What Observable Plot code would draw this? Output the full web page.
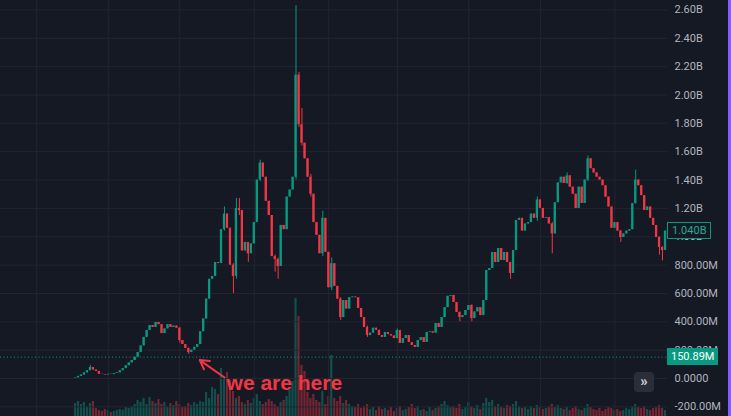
<!DOCTYPE html>
<html><head><meta charset="utf-8">
<script src="https://cdn.jsdelivr.net/npm/d3@7"></script>
<script src="https://cdn.jsdelivr.net/npm/@observablehq/plot@0.6"></script>
<style>
html,body{margin:0;padding:0;background:#151924;}
#wrap{position:relative;width:731px;height:416px;overflow:hidden;background:#151924;font-family:Roboto,"Noto Sans",sans-serif;}
#wrap svg{position:absolute;left:0;top:0;}
.tag{position:absolute;box-sizing:border-box;font-size:11px;line-height:15px;padding:0 4px;white-space:nowrap;}
</style></head><body><div id="wrap"></div>
<script>
// price closes in millions (one per candle)
const closes = [5,15,25,40,55,78,60,50,30,28,25,30,28,35,40,55,70,90,110,127,150,183,230,290,339,374,360,395,380,317,
350,380,360,370,355,268,240,212,183,200,220,240,330,420,560,700,720,818,811,1050,1160,1060,800,720,1200,1185,900,960,880,950,
1100,1400,1520,1420,1250,1150,860,840,790,1080,1050,1280,1330,1420,2140,1790,1660,1550,1420,1300,1100,1010,880,1130,890,640,810,650,560,430,
550,490,570,575,570,494,430,360,303,320,355,340,303,290,325,310,300,282,339,247,282,303,254,233,219,268,289,254,325,330,
320,388,360,430,500,580,586,536,466,430,444,480,515,423,470,500,444,550,762,776,889,818,917,832,889,818,741,903,1115,1130,
1040,1090,1100,1160,1130,1260,1200,1130,1135,1090,1020,1240,1380,1420,1376,1430,1350,1300,1200,1350,1235,1400,1550,1480,1450,1420,1400,1360,1280,1210,
1060,1100,1040,995,1020,1040,1050,1235,1400,1360,1290,1185,1210,1130,1080,995,924,903,1040];
const firstOpen = 2;
// volume per candle (arbitrary units)
const volumes = [13,15,12,14,10,13,15, 8,6,5,7,6,4,5,6, 7,6,9,8,10,12, 16,14,18,12,19,15,13,17,
12,14,10,13,11,15,12,9,10,13,11,14, 12,15,14,24,18,29,27,22,48,
40,44,36,25,18,20,14,12,16,13,18,22,15,12,14,17,15,12,10,14,16,20,26,35,118,
100,51,45,24,18,22,16,14,25,12,20,61,18,15,20,13,16,12,10,9,12,8,10,12,7,
9,6,10,7,8,6,9,5,8,10,6,7,9,12,8,10,6,7,5,9,6,8,10,12,15,
11,9,10,8,12,7,9,14,10,8,11,7,13,18,14,16,10,12,9,8,11,10,12,15,10,
8,9,7,10,8,11,9,7,8,10,12,9,11,8,7,9,6,8,10,7,6,8,12,9,7,
6,8,5,7,9,8,6,7,5,6,8,7,10,12,9,8,10,7,6,8,9,11,8,6];
// notable wicks: candle index, high, low (millions)
const wicks = [
  {i:5,high:92,low:55},{i:35,high:360,low:250},{i:38,high:215,low:170},
  {i:50,high:1210,low:1040},{i:53,high:810,low:600},{i:54,high:1270,low:700},{i:55,high:1270,low:1150},
  {i:58,high:960,low:820},{i:62,high:1540,low:1390},{i:67,high:870,low:750},{i:68,high:850,low:700},
  {i:74,high:2630,low:1400},{i:75,high:2160,low:1770},{i:76,high:1905,low:1640},{i:79,high:1440,low:1280},
  {i:83,high:1180,low:860},{i:86,high:850,low:620},{i:89,high:570,low:410},{i:98,high:370,low:290},
  {i:108,high:350,low:280},{i:129,high:470,low:400},{i:133,high:520,low:400},{i:146,high:820,low:700},
  {i:155,high:1280,low:1110},{i:160,high:1100,low:880},{i:165,high:1450,low:1370},{i:172,high:1570,low:1390},
  {i:183,high:1045,low:960},{i:188,high:1470,low:1230},{i:196,high:1000,low:870},{i:197,high:930,low:830}
];
const yTicks = [-200,0,200,400,600,800,1000,1200,1400,1600,1800,2000,2200,2400,2600];
const gridIdx = [-13,11,35,60,85,108,132,156,181];
const lastPrice = 1040;
const alertPrice = 150.89;
const annotation = {text:"we are here", i:50.7, v:-35};
const arrowSpec = {i1:50, v1:7, i2:41.7, v2:130};

const UP = "#089981", DOWN = "#f23645";
const candles = closes.map((c,i)=>{
  const open = i ? closes[i-1] : firstOpen;
  return {i, open, close:c, high:Math.max(open,c), low:Math.min(open,c), vol:volumes[i]};
});
for (const w of wicks) { const d = candles[w.i]; d.high = Math.max(d.high, w.high); d.low = Math.min(d.low, w.low); }
const col = d => d.close >= d.open ? UP : DOWN;
const fmt = v => v === 0 ? "0.0000" : (Math.abs(v) >= 1000 ? (v/1000).toFixed(2)+"B" : v.toFixed(2)+"M");

const W = 731, H = 416, MR = 64;
const xDomain = [-25.17, 198.67];
const common = {width:W, height:H, marginLeft:0, marginRight:MR, marginTop:0, marginBottom:0,
  style:{background:"transparent", color:"#b2b5be", fontFamily:"Roboto, 'Noto Sans', sans-serif", fontSize:"11px"}};

const volPlot = Plot.plot({...common,
  x:{domain:xDomain, axis:null},
  y:{domain:[0,H], axis:null},
  marks:[
    Plot.rectY(candles, {x1:d=>d.i-0.36, x2:d=>d.i+0.36, y:"vol", fill:col, fillOpacity:0.45})
  ]
});

const plot = Plot.plot({...common,
  x:{domain:xDomain, axis:null},
  y:{domain:[-268,2666.7], axis:null},
  marks:[
    Plot.gridY(yTicks, {stroke:"#222632", strokeOpacity:1}),
    Plot.gridX(gridIdx, {stroke:"#222632", strokeOpacity:1}),
    Plot.ruleY([alertPrice], {stroke:UP, strokeDasharray:"1,2.5", strokeWidth:1}),
    Plot.ruleX(candles, {x:"i", y1:"low", y2:"high", stroke:col, strokeWidth:1}),
    Plot.rect(candles, {x1:d=>d.i-0.38, x2:d=>d.i+0.38, y1:"open", y2:"close", fill:col}),
    Plot.arrow([arrowSpec], {x1:"i1", y1:"v1", x2:"i2", y2:"v2", stroke:DOWN, strokeWidth:2, headLength:11}),
    Plot.text([annotation], {x:"i", y:"v", text:"text", textAnchor:"start", fill:DOWN, fontSize:21, fontWeight:"bold", fontFamily:"Liberation Sans, Arial, sans-serif"}),
    Plot.axisY(yTicks, {anchor:"right", tickSize:0, tickPadding:7, tickFormat:fmt, color:"#b2b5be", label:null, fontSize:11})
  ]
});

const wrap = document.getElementById("wrap");
wrap.appendChild(volPlot);
wrap.appendChild(plot);

const ys = plot.scale("y");
function tag(text, value, css) {
  const d = document.createElement("div");
  d.className = "tag";
  d.textContent = text;
  Object.assign(d.style, css);
  d.style.top = (ys.apply(value) - 8.5) + "px";
  wrap.appendChild(d);
}
tag(fmt(alertPrice), alertPrice, {left:"667px", height:"17px", lineHeight:"17px", background:UP, color:"#ffffff"});
tag((lastPrice/1000).toFixed(3)+"B", lastPrice, {left:"667px", height:"17px", lineHeight:"15px", background:"#151924", color:"#22ab94", border:"1px solid "+UP});

const btn = document.createElement("div");
btn.textContent = "»";
Object.assign(btn.style, {position:"absolute", left:"634px", top:"372px", width:"20px", height:"20px", background:"#2a2e39",
  borderRadius:"4px", color:"#d1d4dc", fontSize:"15px", lineHeight:"18px", textAlign:"center", fontWeight:"bold"});
wrap.appendChild(btn);
const edge = document.createElement("div");
Object.assign(edge.style, {position:"absolute", right:"0", top:"0", width:"3px", height:"416px", background:"#8a5cf6"});
wrap.appendChild(edge);
</script>
</body></html>
